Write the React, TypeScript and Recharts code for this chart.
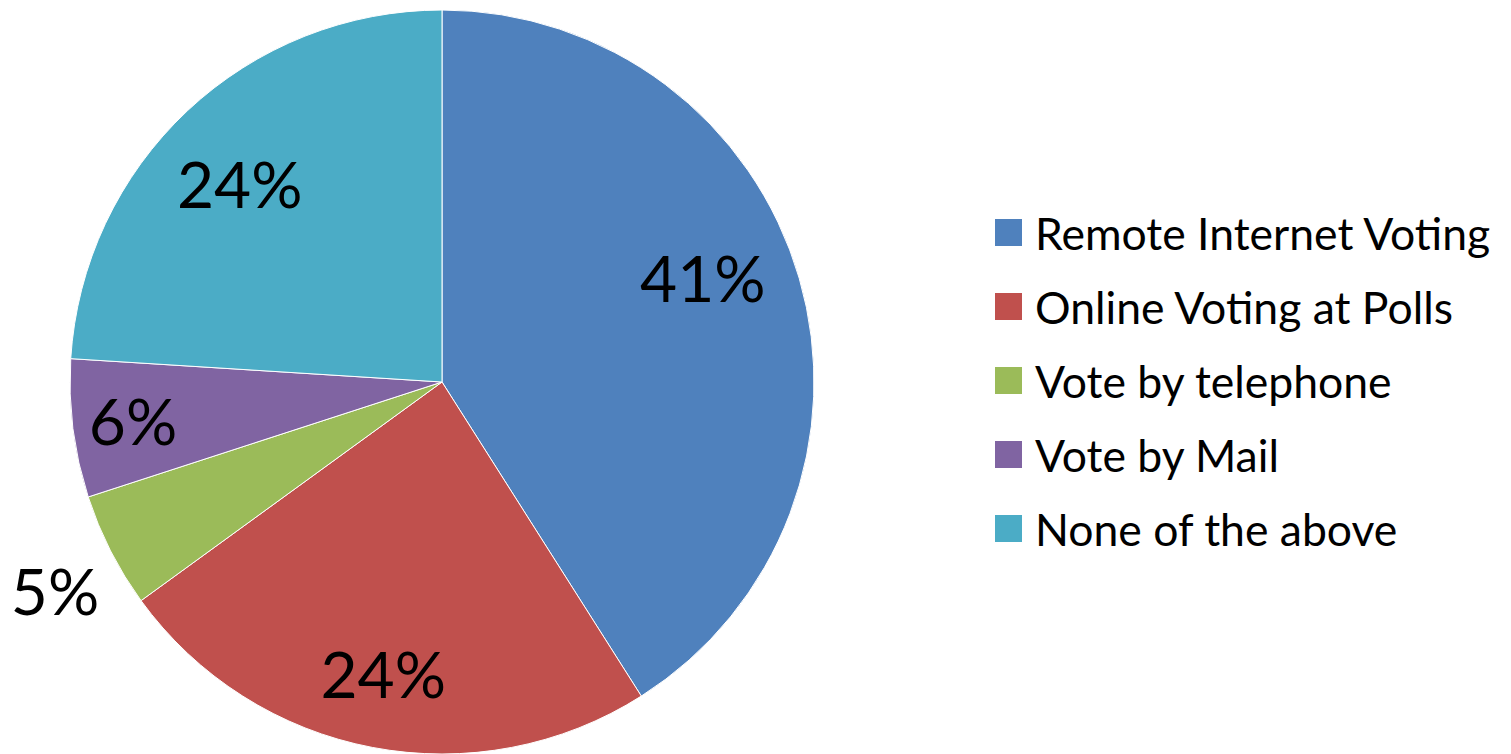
import React from "react";
import { PieChart, Pie, Cell, Legend } from "recharts";

const categories = [
  "Remote Internet Voting",
  "Online Voting at Polls",
  "Vote by telephone",
  "Vote by Mail",
  "None of the above",
];
const shares = [41, 24, 5, 6, 24];
const colors = ["#4F81BD", "#C0504D", "#9BBB59", "#8064A2", "#4BACC6"];

const data = categories.map((name, i) => ({ name, value: shares[i] }));

const RADIAN = Math.PI / 180;

// label placement per slice: [radius factor, angle tweak in degrees]
const labelPlace = [
  [0.752, 5.0],
  [0.806, -0.5],
  [1.185, 1.6],
  [0.838, 0.5],
  [0.757, 2.7],
];

const renderLabel = (props: any) => {
  const { cx, cy, midAngle, outerRadius, value, index } = props;
  const [f, da] = labelPlace[index];
  const r = outerRadius * f;
  const a = (midAngle + da) * RADIAN;
  const x = cx + r * Math.cos(-a);
  const y = cy + r * Math.sin(-a) - 3;
  return (
    <text x={x} y={y} textAnchor="middle" dominantBaseline="central" fill="#000" fontSize={64} fontFamily="Lato">
      {value}%
    </text>
  );
};

const renderLegend = () => (
  <div style={{ fontFamily: "Lato", fontSize: 44.5, color: "#000" }}>
    {categories.map((name, i) => (
      <div key={name} style={{ display: "flex", alignItems: "center", height: 74 }}>
        <span style={{ width: 27, height: 27, background: colors[i], display: "inline-block", marginRight: 13 }} />
        <span>{name}</span>
      </div>
    ))}
  </div>
);

export default function App() {
  return (
    <div style={{ position: "absolute", left: 0, top: 0, background: "#fff" }}>
      <PieChart width={1511} height={754} margin={{ top: 0, right: 0, bottom: 0, left: 0 }}>
        <Pie
          data={data}
          dataKey="value"
          nameKey="name"
          cx={442}
          cy={382}
          outerRadius={372}
          startAngle={90}
          endAngle={-270}
          stroke="#fff"
          strokeWidth={1}
          label={renderLabel}
          labelLine={false}
          isAnimationActive={false}
        >
          {data.map((d, i) => (
            <Cell key={d.name} fill={colors[i]} />
          ))}
        </Pie>
        <Legend
          content={renderLegend}
          wrapperStyle={{ left: 995, top: 195, width: 516 }}
        />
      </PieChart>
    </div>
  );
}
